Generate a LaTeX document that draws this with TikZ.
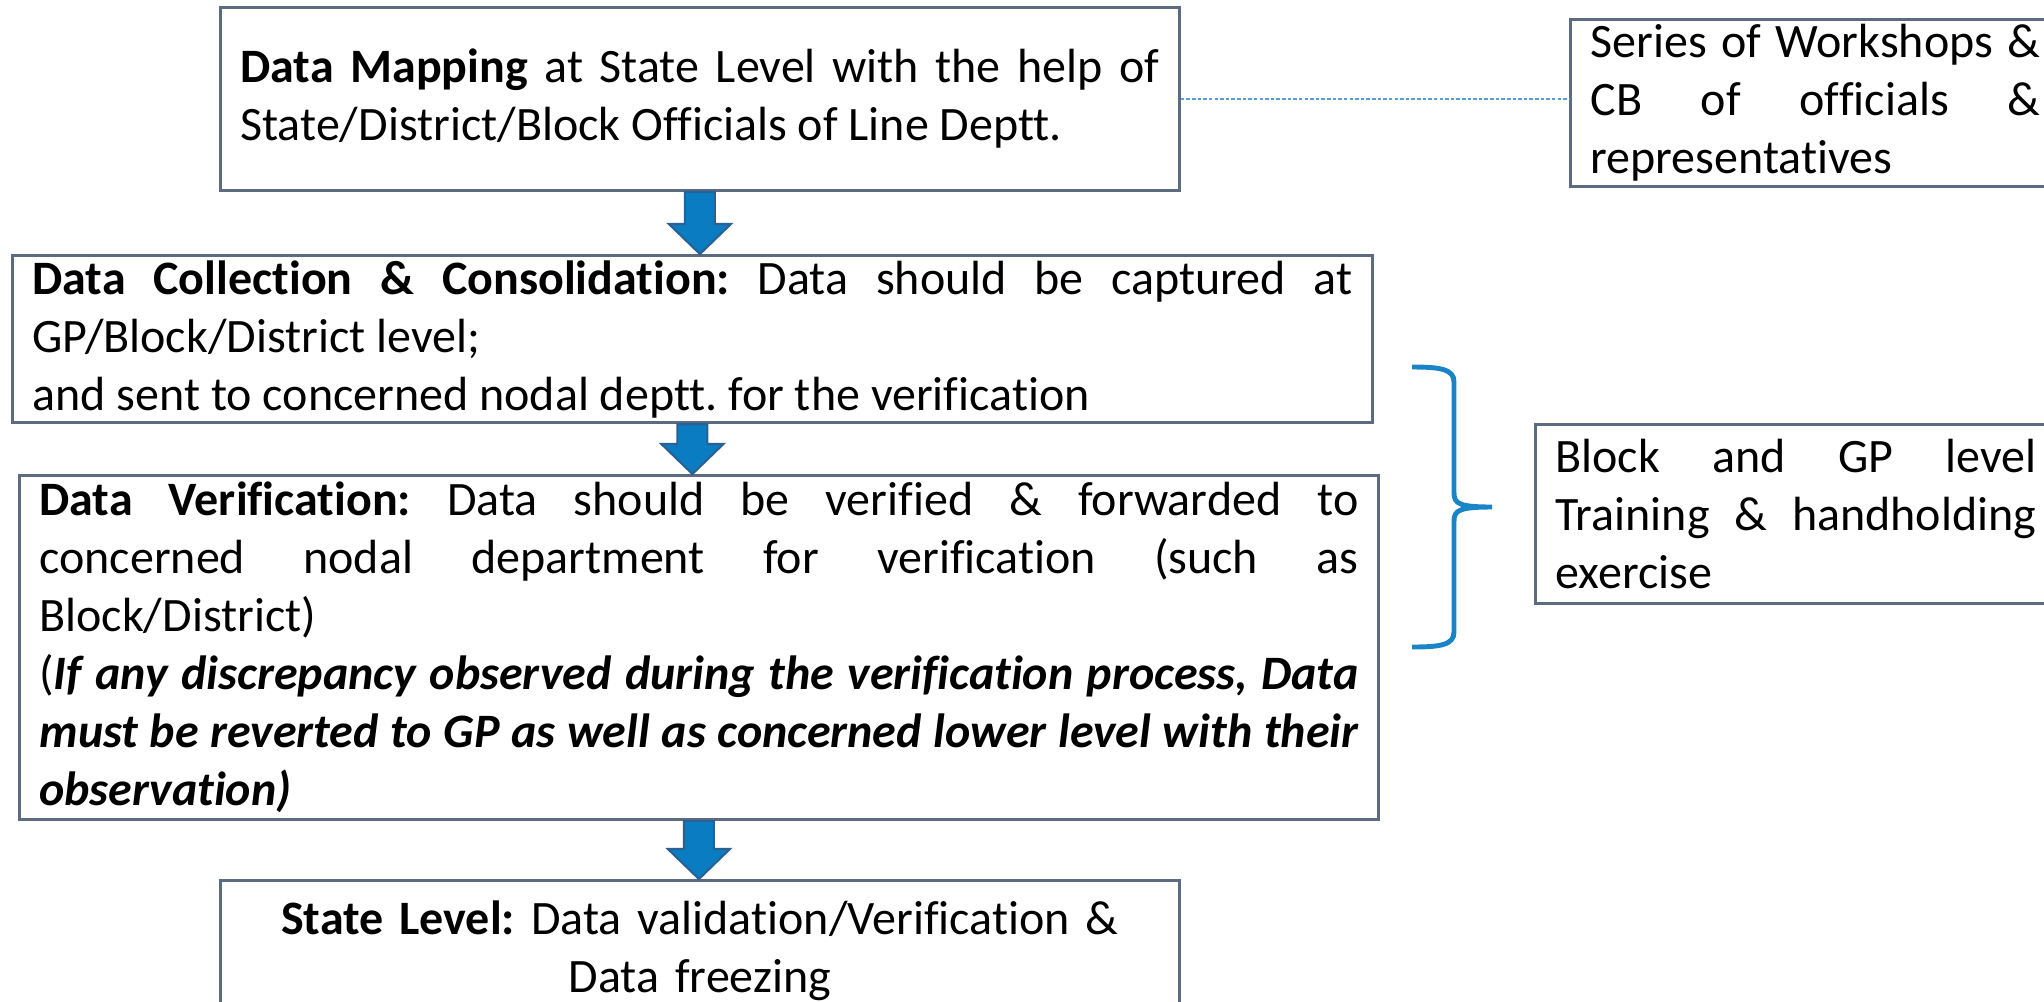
\documentclass[tikz,border=0pt]{standalone}
\usepackage{fontspec}
\setmainfont{Carlito}[Ligatures = NoCommon]
\usepackage{tikz}
\usetikzlibrary{calc}
\definecolor{boxedge}{rgb}{0.36, 0.42, 0.5}
\definecolor{arrowblue}{rgb}{0.04, 0.49, 0.76}
\definecolor{arrowedge}{rgb}{0.16, 0.38, 0.58}
\definecolor{braceblue}{rgb}{0.1, 0.52, 0.78}
\definecolor{linkblue}{rgb}{0.36, 0.61, 0.84}
\newcommand{\boxfont}{\fontsize{13.66pt}{16.5pt}\selectfont\hyphenpenalty=10000\frenchspacing}
\tikzset{box/.style = {draw = boxedge, line width = 0.8pt, anchor = north west, inner xsep = 0.2cm, inner ysep = 0.05cm, align = justify, font = \boxfont}}
\tikzset{fatarrow/.style = {fill = arrowblue, draw = arrowedge, line width = 0.6pt}}
\tikzset{linkline/.style = {linkblue, dash pattern = on 1pt off 0.6pt, line width = 0.7pt}}
\tikzset{bracestyle/.style = {braceblue, line width = 1.4pt}}

\begin{document}
\begin{tikzpicture}
  \useasboundingbox (0, 0) rectangle (20.44, -10.01);

  \node [box, text width = 9.19cm, minimum height = 1.83cm] (map) at (2.19, -0.06)
    {\textbf{Data Mapping} at State Level with the help of\linebreak State/District/Block Officials of Line Deptt.};
  \node [box, text width = 4.5cm, minimum height = 1.63cm] (series) at (15.69, -0.18)
    {Series of Workshops \&\linebreak CB of officials \&\linebreak representatives};
  \node [box, text width = 13.2cm, minimum height = 1.64cm] (collect) at (0.11, -2.54)
    {\textbf{Data Collection \& Consolidation:} Data should be captured at\linebreak GP/Block/District level;\\ and sent to concerned nodal deptt. for the verification};
  \node [box, text width = 13.19cm, minimum height = 3.44cm] (verify) at (0.18, -4.74)
    {\textbf{Data Verification:} Data should be verified \& forwarded to\linebreak concerned nodal department for verification (such as\linebreak Block/District)\\ (\textbf{\textit{If any discrepancy observed during the verification process, Data\linebreak must be reverted to GP as well as concerned lower level with their\linebreak observation)}}};
  \node [box, align = center, text width = 9.19cm, minimum height = 1.4cm] (freeze) at (2.19, -8.79)
    {\textbf{State Level:} Data validation/Verification \&\\ Data freezing};
  \node [box, text width = 4.81cm, minimum height = 1.79cm] (train) at (15.34, -4.23)
    {Block and GP level\linebreak Training \& handholding\linebreak exercise};

  \draw [linkline] (map.east) -- (map.east -| series.west);

  \draw [fatarrow] let \p1 = (map.south), \p2 = (collect.north) in
    (\x1 - 0.15cm, \y1) -- (\x1 + 0.15cm, \y1) -- (\x1 + 0.15cm, \y2 + 0.3cm) -- (\x1 + 0.31cm, \y2 + 0.3cm)
    -- (\x1, \y2) -- (\x1 - 0.31cm, \y2 + 0.3cm) -- (\x1 - 0.15cm, \y2 + 0.3cm) -- cycle;
  \draw [fatarrow] let \p1 = (collect.south), \p2 = (verify.north) in
    (\x1 - 0.15cm, \y1) -- (\x1 + 0.15cm, \y1) -- (\x1 + 0.15cm, \y2 + 0.3cm) -- (\x1 + 0.31cm, \y2 + 0.3cm)
    -- (\x1, \y2) -- (\x1 - 0.31cm, \y2 + 0.3cm) -- (\x1 - 0.15cm, \y2 + 0.3cm) -- cycle;
  \draw [fatarrow] let \p1 = (verify.south), \p2 = (freeze.north) in
    (\x1 - 0.15cm, \y1) -- (\x1 + 0.15cm, \y1) -- (\x1 + 0.15cm, \y2 + 0.3cm) -- (\x1 + 0.31cm, \y2 + 0.3cm)
    -- (\x1, \y2) -- (\x1 - 0.31cm, \y2 + 0.3cm) -- (\x1 - 0.15cm, \y2 + 0.3cm) -- cycle;

  % brace next to the collection and verification steps
  \draw [bracestyle] (14.12, -3.67) .. controls (14.4, -3.67) and (14.54, -3.69) .. (14.54, -3.82)
    -- (14.54, -4.93) .. controls (14.54, -5.04) and (14.6, -5.07) .. (14.92, -5.07)
    .. controls (14.6, -5.07) and (14.54, -5.1) .. (14.54, -5.21)
    -- (14.54, -6.32) .. controls (14.54, -6.45) and (14.4, -6.47) .. (14.12, -6.47);
\end{tikzpicture}
\end{document}
